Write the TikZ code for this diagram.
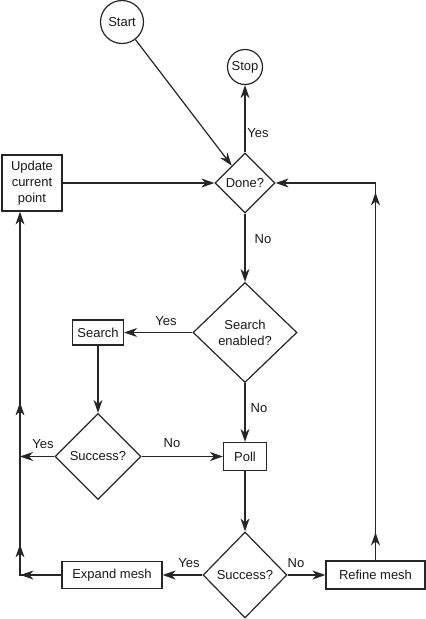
\documentclass[tikz,border=0pt]{standalone}
\usepackage{fontspec}
\setmainfont{Liberation Sans}
\usetikzlibrary{shapes.geometric,arrows.meta,decorations.markings}
\begin{document}
\begin{tikzpicture}[x=1pt,y=-1pt,
  font=\fontsize{13}{16}\selectfont,
  line width=1.2pt,
  draw=black!85,
  every node/.style={text=black!90},
  box/.style={draw, rectangle, inner sep=0pt, align=center},
  dec/.style={draw, diamond, inner sep=0pt, align=center},
  term/.style={draw, circle, inner sep=0pt},
  flow/.style={-{Stealth[length=13pt,width=9pt,inset=4pt]}},
  midtip/.style={postaction={decorate,decoration={markings,
     mark=at position #1 with {\arrow{Stealth[length=13pt,width=9pt,inset=4pt]}}}}},
  lbl/.style={inner sep=0pt}
]
\useasboundingbox (0,0) rectangle (426,619);

% nodes
\node[term, minimum size=43pt] (start) at (122,22) {Start};
\node[term, minimum size=35pt] (stop) at (245,67) {Stop};
\node[dec, minimum width=60pt, minimum height=60pt] (done) at (245,183) {Done?};
\node[box, minimum width=60pt, minimum height=56pt] (update) at (32,183) {Update\\current\\point};
\node[dec, minimum width=104pt, minimum height=100pt] (senab) at (245,332.5) {Search\\enabled?};
\node[box, minimum width=51pt, minimum height=25pt] (search) at (98,332.5) {Search};
\node[dec, minimum width=86pt, minimum height=86pt] (succ1) at (98,456.5) {Success?};
\node[box, minimum width=43pt, minimum height=28pt] (poll) at (245,456.5) {Poll};
\node[dec, minimum width=84pt, minimum height=86pt] (succ2) at (245,575) {Success?};
\node[box, minimum width=100pt, minimum height=27pt] (expand) at (112,575) {Expand mesh};
\node[box, minimum width=99pt, minimum height=28pt] (refine) at (375.5,575) {Refine mesh};

% free ends
\coordinate (ys1) at (20,456.5);
\coordinate (lc) at (20,575);
\coordinate (rc) at (375.5,183);

% connectors
\draw[flow] (start) -- (done);
\draw[flow] (done) -- (stop);
\draw[flow] (update) -- (done);
\draw[flow] (done) -- (senab);
\draw[flow] (senab) -- (search);
\draw[flow] (search) -- (succ1);
\draw[flow] (succ1) -- (poll);
\draw[flow] (senab) -- (poll);
\draw[flow] (poll) -- (succ2);
\draw[flow] (succ2) -- (expand);
\draw[flow] (succ2) -- (refine);
\draw[flow] (succ1.west) -- (ys1);
\draw[flow, midtip=41pt, midtip=72pt, midtip=214pt] (expand.west) -- (lc) -- (lc |- update.south);
\draw[flow, midtip=28pt, midtip=368pt] (refine.north) -- (rc) -- (done.east);

% labels
\node[lbl] (l1) at (258,133) {Yes};
\node[lbl] (l2) at (263,239) {No};
\node[lbl] (l3) at (166,321) {Yes};
\node[lbl] (l4) at (259,408) {No};
\node[lbl] (l5) at (43,444) {Yes};
\node[lbl] (l6) at (172,443) {No};
\node[lbl] (l7) at (189,563.5) {Yes};
\node[lbl] (l8) at (296,563) {No};
\end{tikzpicture}
\end{document}
